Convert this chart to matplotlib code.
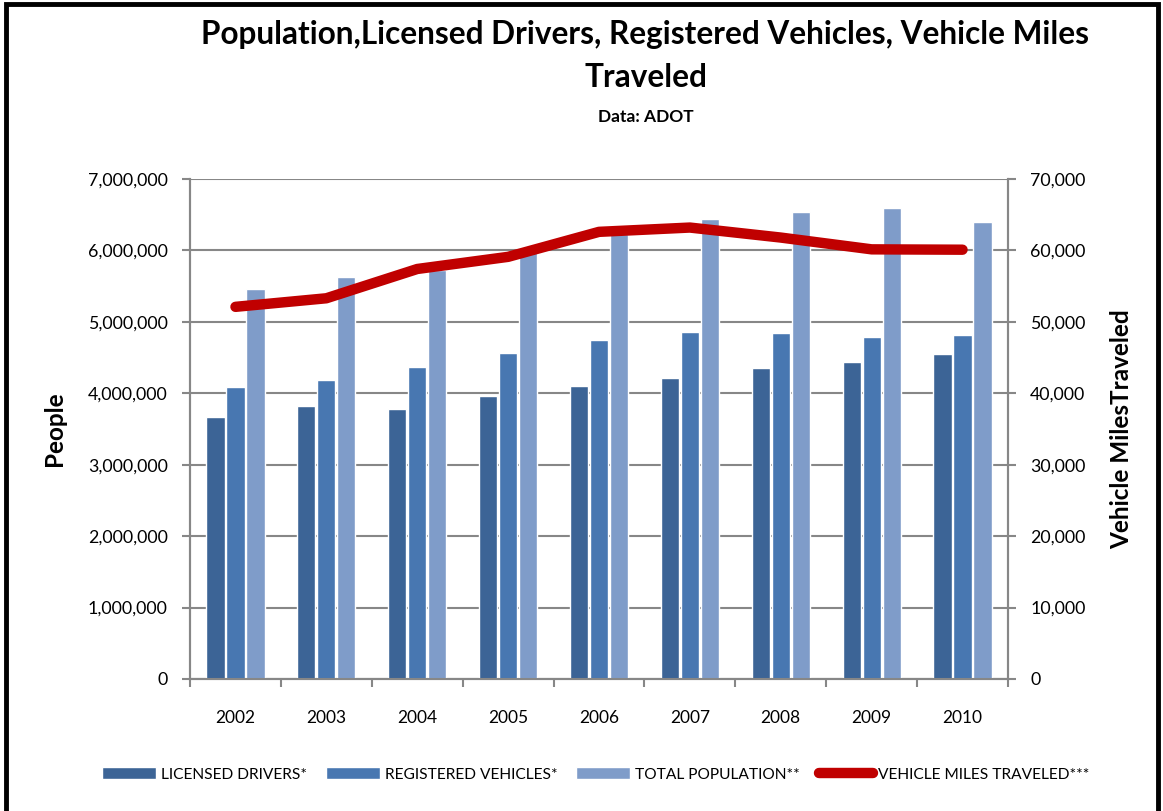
import numpy as np
import matplotlib.pyplot as plt
from matplotlib.patches import Rectangle
from matplotlib.ticker import FuncFormatter, MultipleLocator

plt.rcParams['font.family'] = ['Lato', 'DejaVu Sans']

# data
years = ['2002', '2003', '2004', '2005', '2006', '2007', '2008', '2009', '2010']
licensed = [3670000, 3820000, 3780000, 3960000, 4100000, 4210000, 4360000, 4440000, 4550000]
registered = [4090000, 4190000, 4370000, 4560000, 4750000, 4860000, 4850000, 4790000, 4810000]
population = [5460000, 5630000, 5720000, 6040000, 6230000, 6440000, 6540000, 6600000, 6400000]
vmt = [52100, 53300, 57400, 59100, 62600, 63200, 61800, 60150, 60100]

c_lic = '#3C6496'
c_reg = '#4877B1'
c_pop = '#7F9CC9'
c_line = '#C00000'
grid_c = '#878787'

fig = plt.figure(figsize=(11.63, 8.11), dpi=100)
ax = fig.add_axes([0.1634, 0.1628, 0.7033, 0.6165])
ax2 = ax.twinx()

x = np.arange(len(years))
w = 0.2
ax.bar(x - 0.22, licensed, w, color=c_lic, edgecolor='white', linewidth=1, zorder=3,
       label='LICENSED DRIVERS*')
ax.bar(x, registered, w, color=c_reg, edgecolor='white', linewidth=1, zorder=3,
       label='REGISTERED VEHICLES*')
ax.bar(x + 0.22, population, w, color=c_pop, edgecolor='white', linewidth=1, zorder=3,
       label='TOTAL POPULATION**')
ln, = ax2.plot(x, vmt, color=c_line, linewidth=7.5, solid_capstyle='round',
               solid_joinstyle='round', label='VEHICLE MILES TRAVELED***', zorder=4)

ax.set_xlim(-0.5, len(years) - 0.5)
ax.set_ylim(0, 7000000)
ax2.set_ylim(0, 70000)
ax.yaxis.set_major_locator(MultipleLocator(1000000))
ax2.yaxis.set_major_locator(MultipleLocator(10000))
fmt = FuncFormatter(lambda v, p: f'{int(v):,}')
ax.yaxis.set_major_formatter(fmt)
ax2.yaxis.set_major_formatter(fmt)

ax.grid(axis='y', color=grid_c, linewidth=1.5, zorder=0)
ax.set_axisbelow(True)

ax.set_xticks(x)
ax.set_xticklabels(years)
ax.set_xticks(np.arange(-0.5, len(years)), minor=True)
ax.tick_params(axis='x', which='major', length=0, pad=22, labelsize=12.5)
ax.tick_params(axis='x', which='minor', length=6, color=grid_c, width=1.5)
ax.tick_params(axis='y', length=6, color=grid_c, width=1.5, labelsize=12.8, pad=10)
ax2.tick_params(axis='y', length=6, color=grid_c, width=1.5, labelsize=12.8, pad=10)

for a in (ax, ax2):
    a.spines['top'].set_visible(False)
    for s in ('left', 'right', 'bottom'):
        a.spines[s].set_color(grid_c)
        a.spines[s].set_linewidth(1.5)

ax.set_ylabel('People', fontsize=17.5, fontweight='bold', labelpad=16)
ax2.set_ylabel('Vehicle MilesTraveled', fontsize=17.5, fontweight='bold', labelpad=18)

fig.text(0.555, 0.957, 'Population,Licensed Drivers, Registered Vehicles, Vehicle Miles',
         ha='center', va='center', fontsize=22.7, fontweight='bold')
fig.text(0.555, 0.904, 'Traveled', ha='center', va='center', fontsize=22.7, fontweight='bold')
fig.text(0.555, 0.856, 'Data: ADOT', ha='center', va='center', fontsize=12.5, fontweight='bold')

h1, l1 = ax.get_legend_handles_labels()
fig.legend(h1 + [ln], l1 + [ln.get_label()], loc='center', bbox_to_anchor=(0.512, 0.045),
           ncol=4, frameon=False, fontsize=11.2, handlelength=3.5, handleheight=0.8,
           columnspacing=1.2, handletextpad=0.3)

fig.add_artist(Rectangle((0.0055, -0.05), 0.99, 1.045, transform=fig.transFigure,
                         fill=False, edgecolor='black', linewidth=3.5))

fig.savefig('out.png', dpi=100)
